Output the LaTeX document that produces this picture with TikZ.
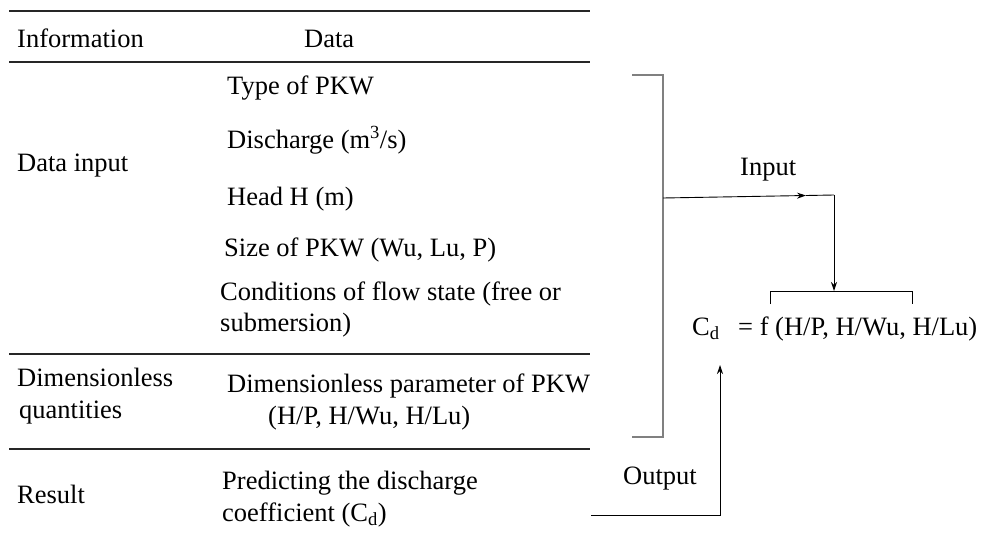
\documentclass[tikz,border=0pt]{standalone}
\usepackage{fontspec}
\setmainfont{Liberation Serif}
\usetikzlibrary{arrows.meta}
\begin{document}
\begin{tikzpicture}[x=1pt,y=-1pt,
  txt/.style={anchor=base west,inner sep=0pt,font=\fontsize{26.5}{30}\selectfont},
  rule/.style={line width=1.1pt,draw=black!85},
  brk/.style={line width=1.2pt,draw=black!50},
  conn/.style={line width=0.9pt,draw=black},
  tip/.style={-{Stealth[length=9pt,width=6pt]}}]
\useasboundingbox (0,0) rectangle (982,543);

% table rules
\coordinate (r1a) at (9,11);   \coordinate (r1b) at (590,11);
\coordinate (r2a) at (9,62);   \coordinate (r2b) at (590,62);
\coordinate (r3a) at (9,354);  \coordinate (r3b) at (590,354);
\coordinate (r4a) at (9,449);  \coordinate (r4b) at (590,449);
\draw[rule] (r1a) -- (r1b);
\draw[rule] (r2a) -- (r2b);
\draw[rule] (r3a) -- (r3b);
\draw[rule] (r4a) -- (r4b);

% header
\node[txt] (hinfo) at (17,48) {Information};
\node[txt] (hdata) at (304,48) {Data};

% data input block
\node[txt] (din)   at (17,171)  {Data input};
\node[txt] (type)  at (227,94)  {Type of PKW};
\node[txt] (disch) at (227,148) {Discharge (m\textsuperscript{3}/s)};
\node[txt] (head)  at (227,205) {Head H (m)};
\node[txt] (size)  at (224,256) {Size of PKW (Wu, Lu, P)};
\node[txt] (cond1) at (220,300) {Conditions of flow state (free or};
\node[txt] (cond2) at (220,331) {submersion)};

% dimensionless block
\node[txt] (dq1) at (17,386) {Dimensionless};
\node[txt] (dq2) at (19,418) {quantities};
\node[txt] (dp1) at (227,392) {Dimensionless parameter of PKW};
\node[txt] (dp2) at (268,424) {(H/P, H/Wu, H/Lu)};

% result block
\node[txt] (res)  at (17,503)  {Result};
\node[txt] (pr1)  at (222,489) {Predicting the discharge};
\node[txt] (pr2)  at (222,521) {coefficient (C\textsubscript{d})};

% bracket gathering the inputs
\coordinate (bt0) at (632,75);
\coordinate (bt1) at (663,75);
\coordinate (bb1) at (663,437);
\coordinate (bb0) at (632,437);
\draw[brk] (bt0) -- (bt1) -- (bb1) -- (bb0);

% input connector
\coordinate (inS) at (663,198);
\coordinate (inM) at (806,195.5);
\coordinate (inC) at (834,195);
\coordinate (inE) at (834,291);
\draw[conn,tip] (inS) -- (inM);
\draw[conn] (inM) -- (inC);
\draw[conn,tip] (inC) -- (inE);
\node[txt] (lin) at (740,175) {Input};

% relation
\node[txt] (cd) at (692,335) {C\textsubscript{d}};
\node[txt] (fn) at (738,335) {= f (H/P, H/Wu, H/Lu)};
\coordinate (fa) at (770,304);
\coordinate (fb) at (770,291);
\coordinate (fc) at (912,291);
\coordinate (fd) at (912,304);
\draw[conn,line width=0.8pt] (fa) -- (fb) -- (fc) -- (fd);

% output connector
\coordinate (outS) at (591,515);
\coordinate (outC) at (720,515);
\coordinate (outE) at (720,365);
\draw[conn,tip] (outS) -- (outC) -- (outE);
\node[txt] (lout) at (623,484) {Output};
\end{tikzpicture}
\end{document}
